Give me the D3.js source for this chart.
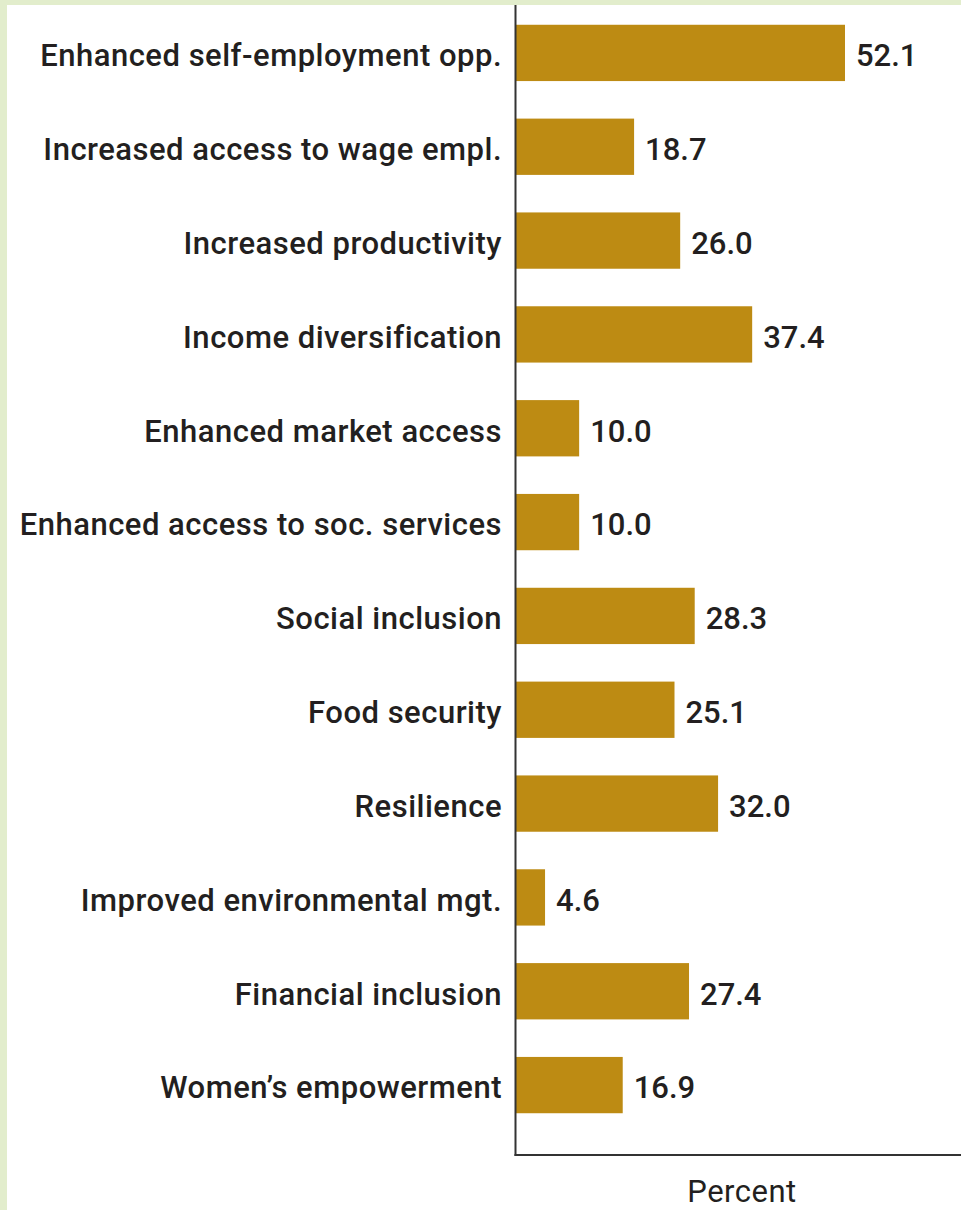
<!DOCTYPE html>
<html>
<head>
<meta charset="utf-8">
<script src="https://cdn.jsdelivr.net/npm/d3@7"></script>
<style>
  body { margin: 0; background: #fff; }
  svg { display: block; }
</style>
</head>
<body>
<svg id="chart" width="961" height="1210"></svg>
<script>
const categories = [
  "Enhanced self-employment opp.",
  "Increased access to wage empl.",
  "Increased productivity",
  "Income diversification",
  "Enhanced market access",
  "Enhanced access to soc. services",
  "Social inclusion",
  "Food security",
  "Resilience",
  "Improved environmental mgt.",
  "Financial inclusion",
  "Women\u2019s empowerment"
];
const values = [52.1, 18.7, 26.0, 37.4, 10.0, 10.0, 28.3, 25.1, 32.0, 4.6, 27.4, 16.9];
const axisTitle = "Percent";

const data = categories.map((c, i) => ({ label: c, value: values[i] }));

const svg = d3.select("#chart");
const font = 'Roboto, "Liberation Sans", Arial, sans-serif';

// light green frame on top and left
svg.append("rect").attr("x", 0).attr("y", 0).attr("width", 961).attr("height", 1210).attr("fill", "#e2edcc");
svg.append("rect").attr("x", 7).attr("y", 5).attr("width", 954).attr("height", 1205).attr("fill", "#fff");

const x0 = 516;
const xScale = d3.scaleLinear().domain([0, 52.1]).range([x0, 845]);
const yScale = d3.scaleBand()
  .domain(categories)
  .range([6, 1132])
  .paddingInner(0.4)
  .paddingOuter(0.2);

// bars
svg.selectAll(".bar")
  .data(data)
  .enter()
  .append("rect")
  .attr("class", "bar")
  .attr("x", xScale(0))
  .attr("y", d => yScale(d.label))
  .attr("width", d => xScale(d.value) - xScale(0))
  .attr("height", yScale.bandwidth())
  .attr("fill", "#bd8b13");

// category labels
svg.selectAll(".cat")
  .data(data)
  .enter()
  .append("text")
  .attr("class", "cat")
  .attr("x", 502)
  .attr("y", d => yScale(d.label) + yScale.bandwidth() / 2)
  .attr("dy", "0.43em")
  .attr("text-anchor", "end")
  .style("font-family", font)
  .style("font-weight", 500)
  .style("font-size", "31px")
  .style("letter-spacing", "0.5px")
  .attr("fill", "#231f20")
  .text(d => d.label);

// value labels
svg.selectAll(".val")
  .data(data)
  .enter()
  .append("text")
  .attr("class", "val")
  .attr("x", d => xScale(d.value) + 11)
  .attr("y", d => yScale(d.label) + yScale.bandwidth() / 2)
  .attr("dy", "0.43em")
  .style("font-family", font)
  .style("font-weight", 500)
  .style("font-size", "31px")
  .attr("fill", "#231f20")
  .text(d => d.value.toFixed(1));

// axis lines
svg.append("line")
  .attr("x1", x0 - 0.5).attr("x2", x0 - 0.5)
  .attr("y1", 5).attr("y2", 1156)
  .attr("stroke", "#333").attr("stroke-width", 2);
svg.append("line")
  .attr("x1", x0 - 1.5).attr("x2", 961)
  .attr("y1", 1155).attr("y2", 1155)
  .attr("stroke", "#333").attr("stroke-width", 2);

svg.append("text")
  .attr("x", 742)
  .attr("y", 1202)
  .attr("text-anchor", "middle")
  .style("font-family", font)
  .style("font-weight", 400)
  .style("font-size", "31px")
  .style("letter-spacing", "0.5px")
  .attr("fill", "#231f20")
  .text(axisTitle);
</script>
</body>
</html>
